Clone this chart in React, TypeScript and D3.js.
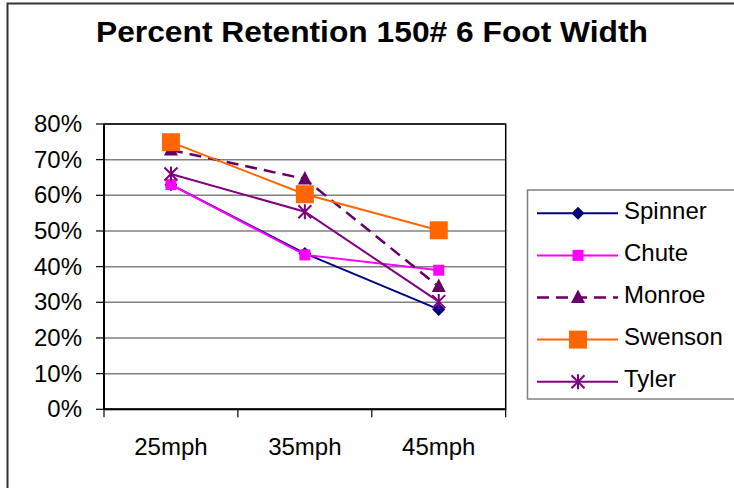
import React from 'react';
import * as d3 from 'd3';

const categories = ['25mph', '35mph', '45mph'];
const seriesNames = ['Spinner', 'Chute', 'Monroe', 'Swenson', 'Tyler'];
const spinner = [0.63, 0.437, 0.28];
const chute = [0.63, 0.433, 0.39];
const monroe = [0.727, 0.646, 0.344];
const swenson = [0.749, 0.603, 0.502];
const tyler = [0.66, 0.554, 0.302];
const yTicks = [0, 0.1, 0.2, 0.3, 0.4, 0.5, 0.6, 0.7, 0.8];

const colors = ['#000080', '#FF00FF', '#660066', '#FF6600', '#800080'];
const markers = ['diamond', 'square', 'triangle', 'bigsquare', 'star'];
const dashes = [null, null, '12,7', null, null];
const values = [spinner, chute, monroe, swenson, tyler];

const font = 'Liberation Sans, Arial, sans-serif';

function Marker({ kind, x, y, color }: { kind: string; x: number; y: number; color: string }) {
  if (kind === 'diamond') {
    const s = 6.5;
    return <path d={`M${x},${y - s}L${x + s},${y}L${x},${y + s}L${x - s},${y}Z`} fill={color} />;
  }
  if (kind === 'square') {
    return <rect x={x - 5.5} y={y - 5.5} width={11} height={11} fill={color} />;
  }
  if (kind === 'bigsquare') {
    return <rect x={x - 9} y={y - 9} width={18} height={18} fill={color} />;
  }
  if (kind === 'triangle') {
    return <path d={`M${x},${y - 8}L${x + 7},${y + 5.5}L${x - 7},${y + 5.5}Z`} fill={color} />;
  }
  const s = 6.5;
  return (
    <path
      d={`M${x - s},${y - s}L${x + s},${y + s}M${x - s},${y + s}L${x + s},${y - s}M${x},${y - s - 1}L${x},${y + s + 1}`}
      stroke={color}
      strokeWidth={2}
      fill="none"
    />
  );
}

export default function App() {
  const left = 104;
  const right = 505.7;
  const top = 124;
  const bottom = 409.3;

  const x = d3.scaleBand<string>().domain(categories).range([left, right]).padding(0);
  const cx = (c: string) => (x(c) as number) + x.bandwidth() / 2;
  const y = d3.scaleLinear().domain([0, 0.8]).range([bottom, top]);
  const line = d3
    .line<number>()
    .x((_, i) => cx(categories[i]))
    .y((d) => y(d));

  const legendY = d3.scalePoint<string>().domain(seriesNames).range([213.3, 381.7]);

  return (
    <svg
      width={734}
      height={488}
      style={{ position: 'absolute', left: 0, top: 0, background: '#fff' }}
      fontFamily={font}
    >
      <rect x={0} y={0} width={734} height={488} fill="#fff" />
      <path d="M7.5,500V3.5H740" fill="none" stroke="#333" strokeWidth={2} />

      <text x={372} y={42} textAnchor="middle" fontSize={30} fontWeight="bold" textLength={552} lengthAdjust="spacingAndGlyphs">
        Percent Retention 150# 6 Foot Width
      </text>

      {yTicks.map((t) => (
        <g key={t}>
          {t > 0 && <line x1={left} x2={right} y1={y(t)} y2={y(t)} stroke="#808080" strokeWidth={1.5} />}
          <line x1={left - 8} x2={left} y1={y(t)} y2={y(t)} stroke="#000" strokeWidth={1.2} />
          <text x={82} y={y(t) + 8} textAnchor="end" fontSize={24}>
            {d3.format('.0%')(t)}
          </text>
        </g>
      ))}

      <rect x={left} y={top} width={right - left} height={bottom - top} fill="none" stroke="#000" strokeWidth={1.5} />
      <line x1={left} x2={right} y1={bottom} y2={bottom} stroke="#000" strokeWidth={2} />
      <line x1={left} x2={left} y1={top} y2={bottom} stroke="#000" strokeWidth={2} />

      {categories.map((c) => (
        <text key={c} x={cx(c)} y={455} textAnchor="middle" fontSize={24}>
          {c}
        </text>
      ))}
      {[...categories.map((c) => x(c) as number), right].map((v, i) => (
        <line key={i} x1={v} x2={v} y1={bottom} y2={bottom + 8} stroke="#000" strokeWidth={1.2} />
      ))}

      {values.map((vals, si) => (
        <g key={seriesNames[si]}>
          <path
            d={line(vals) as string}
            fill="none"
            stroke={colors[si]}
            strokeWidth={si === 2 ? 2.5 : 2}
            strokeDasharray={dashes[si] || undefined}
          />
        </g>
      ))}
      {values.map((vals, si) => (
        <g key={seriesNames[si] + 'm'}>
          {vals.map((v, i) => (
            <Marker key={i} kind={markers[si]} x={cx(categories[i])} y={y(v)} color={colors[si]} />
          ))}
        </g>
      ))}

      <rect x={527.5} y={190} width={220} height={209} fill="#fff" stroke="#808080" strokeWidth={1.5} />
      {seriesNames.map((name, si) => {
        const ly = legendY(name) as number;
        return (
          <g key={name}>
            <line
              x1={537}
              x2={618}
              y1={ly}
              y2={ly}
              stroke={colors[si]}
              strokeWidth={si === 2 ? 2.5 : 2}
              strokeDasharray={dashes[si] || undefined}
            />
            <Marker kind={markers[si]} x={578} y={ly} color={colors[si]} />
            <text x={624} y={ly + 5.5} fontSize={24}>
              {name}
            </text>
          </g>
        );
      })}
    </svg>
  );
}
